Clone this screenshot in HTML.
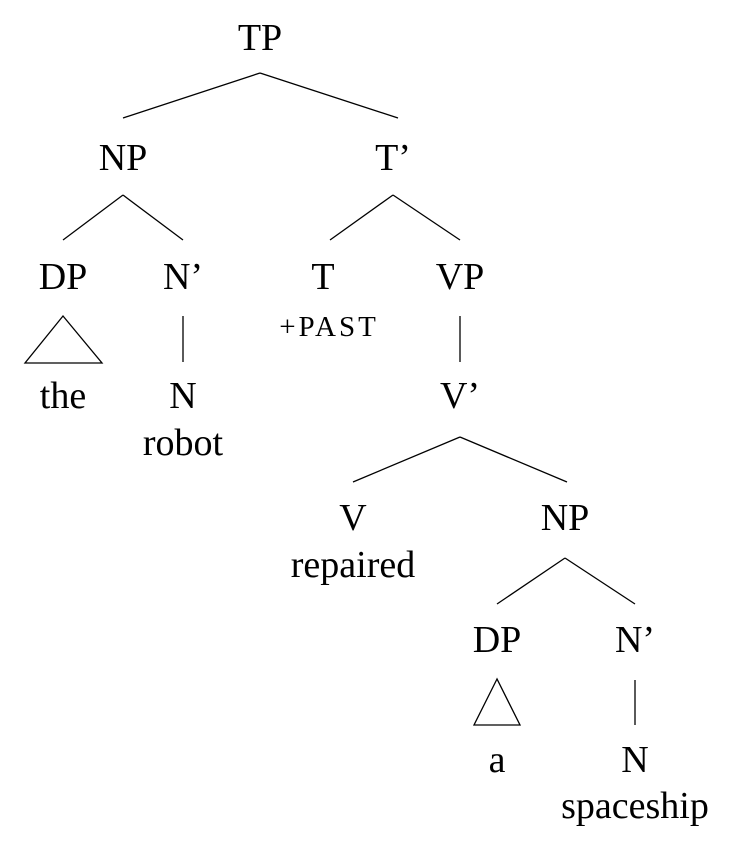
<!DOCTYPE html>
<html><head><style>html,body{margin:0;padding:0;background:#fff;}svg{display:block}</style></head>
<body>
<svg width="730" height="854" xmlns="http://www.w3.org/2000/svg" font-family="'Liberation Serif', serif" font-size="38" text-anchor="middle" fill="#000">
<g stroke="#000" stroke-width="1.3" fill="none">
<line x1="260" y1="73" x2="123" y2="118"/><line x1="260" y1="73" x2="398" y2="118"/>
<line x1="123" y1="195" x2="63" y2="240"/><line x1="123" y1="195" x2="183" y2="240"/>
<line x1="393" y1="195" x2="330" y2="240"/><line x1="393" y1="195" x2="460" y2="240"/>
<polygon points="63,316 25,363 102,363"/>
<line x1="183" y1="316" x2="183" y2="362"/>
<line x1="460" y1="316" x2="460" y2="362"/>
<line x1="460" y1="437" x2="353" y2="482"/><line x1="460" y1="437" x2="567" y2="482"/>
<line x1="565" y1="558" x2="497" y2="604"/><line x1="565" y1="558" x2="635" y2="604"/>
<polygon points="497,679 474,725 520,725"/>
<line x1="635" y1="680" x2="635" y2="725"/>
</g>
<text x="260" y="50">TP</text>
<text x="123" y="170">NP</text>
<text x="393" y="170">T’</text>
<text x="63" y="289">DP</text>
<text x="183" y="289">N’</text>
<text x="323" y="289">T</text>
<text x="460" y="289">VP</text>
<text x="329" y="336" font-size="29" letter-spacing="3">+PAST</text>
<text x="63" y="408">the</text>
<text x="183" y="408">N</text>
<text x="183" y="455">robot</text>
<text x="460" y="408">V’</text>
<text x="353" y="530">V</text>
<text x="353" y="577">repaired</text>
<text x="565" y="530">NP</text>
<text x="497" y="652">DP</text>
<text x="635" y="652">N’</text>
<text x="497" y="772">a</text>
<text x="635" y="772">N</text>
<text x="635" y="818">spaceship</text>
</svg>
</body></html>
